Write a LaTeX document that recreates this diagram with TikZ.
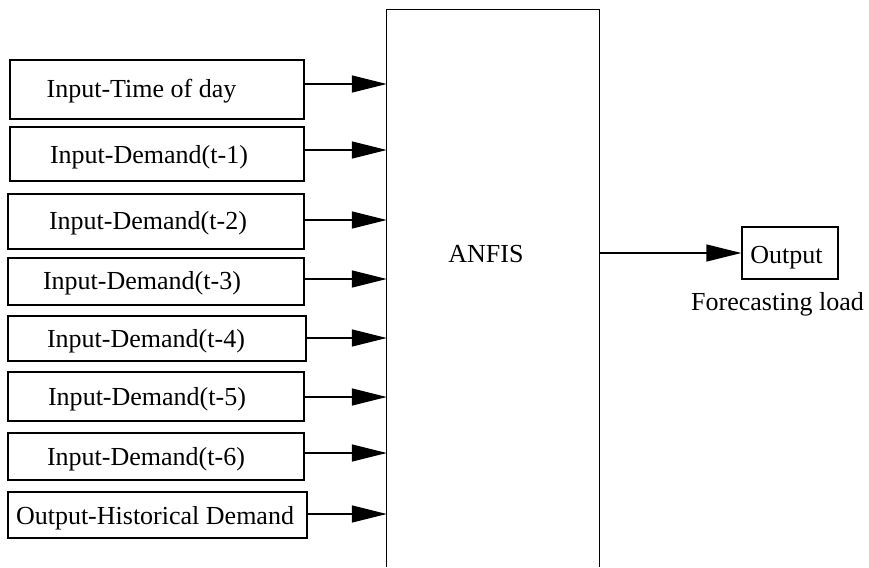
\documentclass[tikz,border=0pt]{standalone}
\usepackage{fontspec}
\setmainfont{Liberation Serif}
\usetikzlibrary{arrows.meta}
\begin{document}
\begin{tikzpicture}[x=1pt,y=-1pt,
  box/.style={draw, line width=1.3pt, rectangle, inner sep=0pt},
  lbl/.style={font=\fontsize{26}{28}\selectfont, anchor=base, inner sep=0pt},
  arr/.style={line width=1.3pt, -{Triangle[length=35pt,width=17pt]}}]
\useasboundingbox (0,0) rectangle (869,567);
\fill[white] (0,0) rectangle (869,567);
% input boxes
\node[box, minimum width=294pt, minimum height=59pt] (b1) at (157,89.5) {};
\node[box, minimum width=294pt, minimum height=54pt] (b2) at (157,154) {};
\node[box, minimum width=296pt, minimum height=55pt] (b3) at (156,221.5) {};
\node[box, minimum width=296pt, minimum height=47pt] (b4) at (156,281.5) {};
\node[box, minimum width=298pt, minimum height=45pt] (b5) at (157,338.5) {};
\node[box, minimum width=296pt, minimum height=49pt] (b6) at (156,396.5) {};
\node[box, minimum width=296pt, minimum height=47pt] (b7) at (156,456.5) {};
\node[box, minimum width=299pt, minimum height=46pt] (b8) at (157.5,515) {};
\node[lbl] (t1) at (141.5,98) {Input-Time of day};
\node[lbl] (t2) at (149,163) {Input-Demand(t-1)};
\node[lbl] (t3) at (148,229.5) {Input-Demand(t-2)};
\node[lbl] (t4) at (142,289.5) {Input-Demand(t-3)};
\node[lbl] (t5) at (146,347) {Input-Demand(t-4)};
\node[lbl] (t6) at (147,405) {Input-Demand(t-5)};
\node[lbl] (t7) at (146,465) {Input-Demand(t-6)};
\node[lbl] (t8) at (155,524) {Output-Historical Demand};
% ANFIS block (bottom edge lies below the picture)
\node[minimum width=212pt, minimum height=557pt, inner sep=0pt] (A) at (493,288.5) {};
\draw[line width=1.3pt] (A.south west) -- (A.north west) -- (A.north east) -- (A.south east);
\node[lbl] (anfis) at (486,262) {ANFIS};
% output
\node[box, minimum width=96pt, minimum height=52pt] (out) at (790,253) {};
\node[lbl] (tout) at (786.5,263) {Output};
\node[lbl] (fl) at (777.5,310) {Forecasting load};
% connectors
\draw[arr] (b1.east |- 0,84) -- (A.west |- 0,84);
\draw[arr] (b2.east |- 0,150) -- (A.west |- 0,150);
\draw[arr] (b3.east |- 0,220) -- (A.west |- 0,220);
\draw[arr] (b4.east |- 0,279) -- (A.west |- 0,279);
\draw[arr] (b5.east |- 0,338) -- (A.west |- 0,338);
\draw[arr] (b6.east |- 0,397) -- (A.west |- 0,397);
\draw[arr] (b7.east |- 0,453) -- (A.west |- 0,453);
\draw[arr] (b8.east |- 0,514) -- (A.west |- 0,514);
\draw[arr] (A.east |- out.west) -- (out.west);
\end{tikzpicture}
\end{document}
